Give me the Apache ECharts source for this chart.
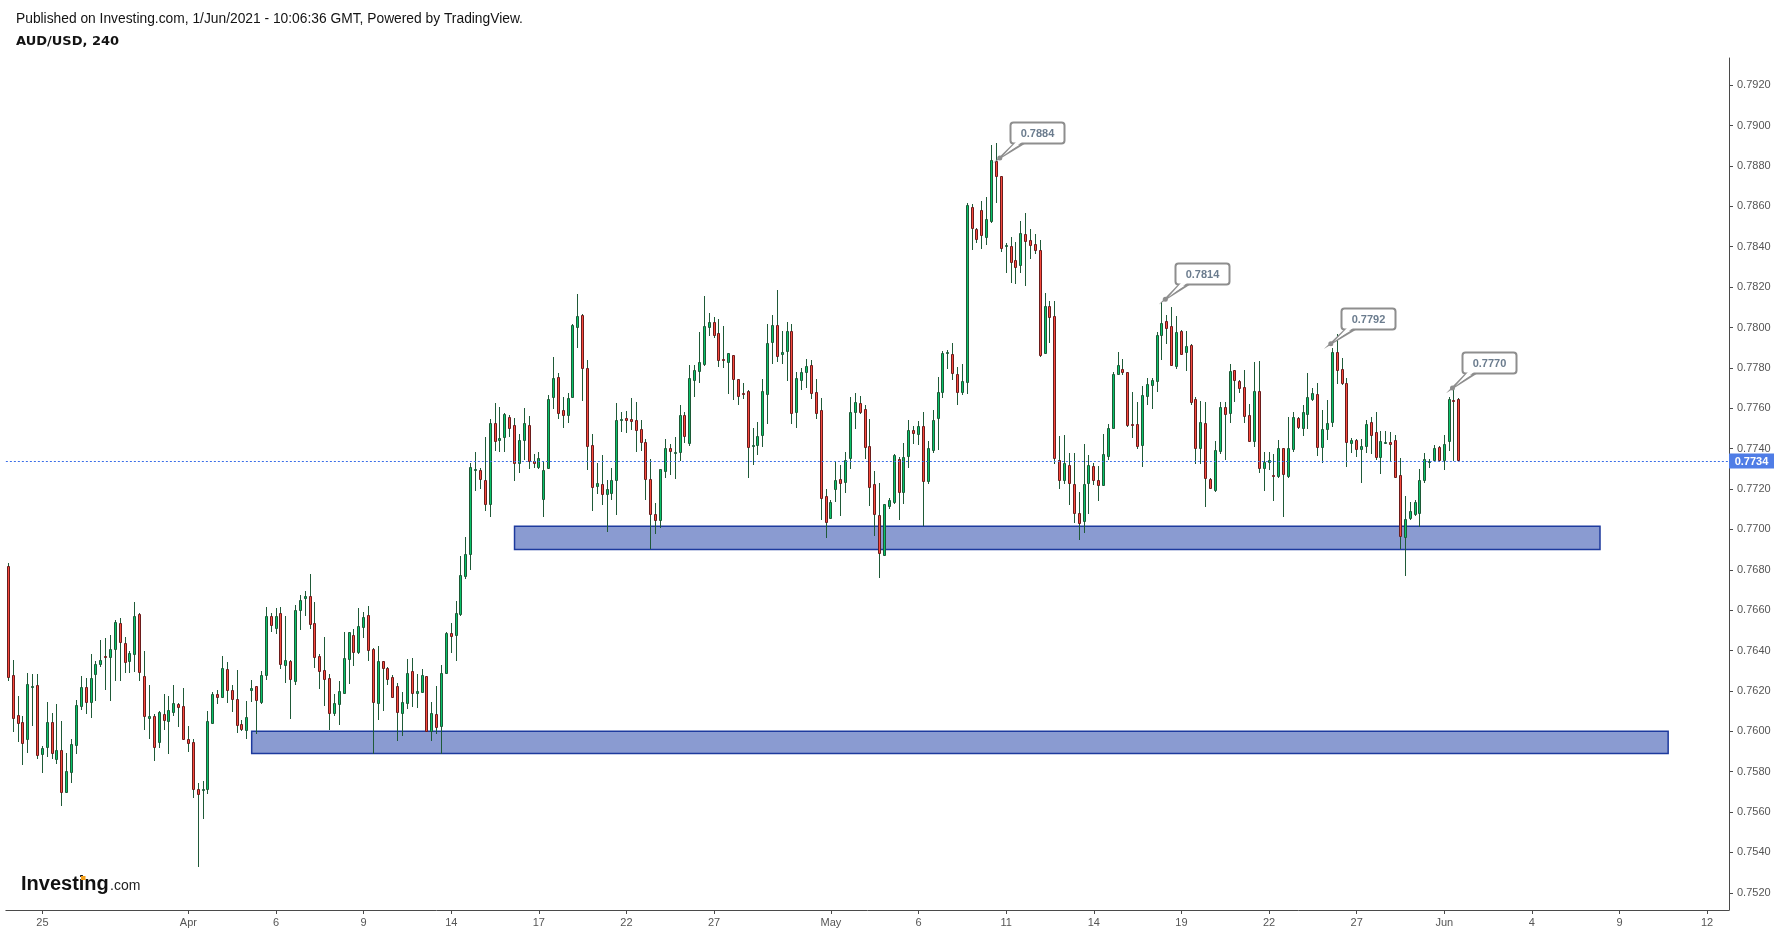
<!DOCTYPE html>
<html><head><meta charset="utf-8">
<script src="https://cdn.jsdelivr.net/npm/echarts@6/dist/echarts.min.js"></script>
<style>html,body{margin:0;padding:0;background:#fff}#chart{width:1781px;height:934px}</style>
</head><body><div id="chart"></div>
<script>
// AUD/USD 4h candles: [open, close, low, high]
const ohlc = [
[0.76819,0.76271,0.76254,0.76832],[0.76279,0.76064,0.76003,0.76353],[0.76081,0.76043,0.75954,0.76175],[0.76044,0.75940,0.75838,0.76076],
[0.75960,0.76234,0.75899,0.76287],[0.76221,0.76226,0.76031,0.76284],[0.76229,0.75884,0.75868,0.76284],[0.75886,0.75916,0.75800,0.75927],
[0.75921,0.76044,0.75878,0.76143],[0.76044,0.75891,0.75866,0.76089],[0.75864,0.75907,0.75841,0.76135],[0.75907,0.75698,0.75635,0.76051],
[0.75701,0.75803,0.75701,0.75891],[0.75800,0.75935,0.75750,0.75960],[0.75934,0.76130,0.75891,0.76155],[0.76127,0.76219,0.76110,0.76274],
[0.76219,0.76143,0.76089,0.76262],[0.76147,0.76264,0.76072,0.76383],[0.76285,0.76332,0.76155,0.76350],[0.76335,0.76351,0.76323,0.76452],
[0.76373,0.76366,0.76209,0.76464],[0.76366,0.76406,0.76155,0.76477],[0.76406,0.76541,0.76254,0.76550],[0.76535,0.76441,0.76254,0.76561],
[0.76436,0.76342,0.76295,0.76467],[0.76350,0.76386,0.76295,0.76396],[0.76381,0.76569,0.76300,0.76640],[0.76579,0.76292,0.76254,0.76586],
[0.76272,0.76074,0.76013,0.76396],[0.76064,0.76074,0.75968,0.76229],[0.76074,0.75921,0.75859,0.76084],[0.75945,0.76094,0.75924,0.76100],
[0.76084,0.76054,0.76013,0.76185],[0.76049,0.76104,0.75894,0.76176],[0.76094,0.76138,0.76081,0.76229],[0.76135,0.76122,0.76028,0.76138],
[0.76125,0.75960,0.75960,0.76214],[0.75960,0.75940,0.75904,0.76026],[0.75945,0.75716,0.75676,0.75960],[0.75712,0.75688,0.75334,0.75742],
[0.75708,0.75712,0.75572,0.75754],[0.75716,0.76049,0.75696,0.76100],[0.76043,0.76185,0.76043,0.76195],[0.76183,0.76168,0.76142,0.76204],
[0.76171,0.76312,0.76171,0.76373],[0.76307,0.76203,0.76147,0.76343],[0.76203,0.76158,0.76102,0.76229],[0.76158,0.76029,0.75995,0.76304],
[0.76034,0.76013,0.76008,0.76056],[0.76008,0.76069,0.75968,0.76150],[0.76203,0.76214,0.76152,0.76254],[0.76223,0.76153,0.75993,0.76224],
[0.76147,0.76277,0.76142,0.76299],[0.76280,0.76569,0.76261,0.76616],[0.76569,0.76525,0.76498,0.76584],[0.76513,0.76569,0.76488,0.76611],
[0.76584,0.76335,0.76315,0.76616],[0.76330,0.76351,0.76246,0.76571],[0.76346,0.76261,0.76067,0.76353],[0.76251,0.76599,0.76234,0.76624],
[0.76599,0.76649,0.76507,0.76675],[0.76658,0.76668,0.76576,0.76695],[0.76668,0.76533,0.76513,0.76779],[0.76536,0.76370,0.76317,0.76640],
[0.76371,0.76300,0.76214,0.76383],[0.76302,0.76261,0.76132,0.76467],[0.76264,0.76092,0.76011,0.76284],[0.76092,0.76138,0.76081,0.76185],
[0.76137,0.76198,0.76038,0.76249],[0.76191,0.76361,0.76191,0.76492],[0.76360,0.76490,0.76241,0.76492],[0.76475,0.76394,0.76330,0.76505],
[0.76393,0.76521,0.76388,0.76611],[0.76518,0.76566,0.76469,0.76591],[0.76574,0.76401,0.76353,0.76621],[0.76406,0.76147,0.75891,0.76410],
[0.76142,0.76347,0.76061,0.76422],[0.76347,0.76315,0.76105,0.76348],[0.76312,0.76261,0.76236,0.76317],[0.76267,0.76171,0.76171,0.76279],
[0.76224,0.76097,0.75957,0.76238],[0.76092,0.76143,0.75983,0.76195],[0.76142,0.76287,0.76117,0.76358],[0.76297,0.76191,0.76127,0.76363],
[0.76191,0.76198,0.76120,0.76284],[0.76196,0.76277,0.76196,0.76309],[0.76272,0.76000,0.76000,0.76274],[0.76003,0.76089,0.75957,0.76145],
[0.76084,0.76023,0.75993,0.76224],[0.76028,0.76287,0.75891,0.76328],[0.76290,0.76485,0.76290,0.76490],[0.76485,0.76474,0.76393,0.76536],
[0.76479,0.76584,0.76353,0.76645],[0.76581,0.76772,0.76576,0.76868],[0.76771,0.76878,0.76761,0.76962],[0.76880,0.77307,0.76804,0.77327],
[0.77296,0.77299,0.77195,0.77383],[0.77294,0.77251,0.77205,0.77306],[0.77243,0.77127,0.77096,0.77459],[0.77127,0.77525,0.77068,0.77545],
[0.77525,0.77439,0.77393,0.77626],[0.77444,0.77451,0.77388,0.77606],[0.77459,0.77570,0.77390,0.77574],[0.77557,0.77504,0.77464,0.77568],
[0.77515,0.77327,0.77245,0.77550],[0.77327,0.77441,0.77283,0.77472],[0.77441,0.77525,0.77350,0.77601],[0.77515,0.77337,0.77306,0.77562],
[0.77339,0.77327,0.77311,0.77372],[0.77311,0.77352,0.77304,0.77383],[0.77149,0.77294,0.77068,0.77340],[0.77302,0.77646,0.77302,0.77666],
[0.77657,0.77748,0.77600,0.77854],[0.77753,0.77578,0.77553,0.77775],[0.77591,0.77565,0.77509,0.77656],[0.77568,0.77651,0.77534,0.77676],
[0.77654,0.78012,0.77654,0.78015],[0.78001,0.78057,0.77905,0.78166],[0.78062,0.77798,0.77641,0.78067],[0.77798,0.77415,0.77299,0.77839],
[0.77418,0.77212,0.77096,0.77472],[0.77217,0.77230,0.77179,0.77329],[0.77225,0.77174,0.77126,0.77368],[0.77174,0.77198,0.76994,0.77245],
[0.77182,0.77245,0.77149,0.77304],[0.77245,0.77542,0.77076,0.77626],[0.77543,0.77547,0.77489,0.77580],[0.77552,0.77543,0.77481,0.77588],
[0.77547,0.77535,0.77497,0.77652],[0.77542,0.77494,0.77388,0.77631],[0.77496,0.77435,0.77393,0.77542],[0.77431,0.77251,0.77149,0.77448],
[0.77248,0.77078,0.76909,0.77349],[0.77076,0.77048,0.76984,0.77131],[0.77045,0.77297,0.77014,0.77300],[0.77291,0.77403,0.77260,0.77448],
[0.77403,0.77390,0.77276,0.77425],[0.77380,0.77383,0.77255,0.77458],[0.77385,0.77567,0.77342,0.77616],[0.77567,0.77464,0.77431,0.77581],
[0.77430,0.77750,0.77420,0.77814],[0.77740,0.77789,0.77662,0.77814],[0.77786,0.77829,0.77732,0.77978],[0.77819,0.78007,0.77814,0.78156],
[0.78004,0.78027,0.77964,0.78072],[0.78027,0.77963,0.77951,0.78052],[0.77973,0.77841,0.77811,0.78042],[0.77844,0.77841,0.77803,0.78007],
[0.77831,0.77872,0.77674,0.77875],[0.77862,0.77747,0.77647,0.77866],[0.77745,0.77662,0.77623,0.77747],[0.77674,0.77669,0.77649,0.77725],
[0.77684,0.77410,0.77261,0.77688],[0.77415,0.77418,0.77326,0.77502],[0.77420,0.77463,0.77375,0.77532],[0.77469,0.77684,0.77415,0.77745],
[0.77669,0.77922,0.77529,0.78017],[0.77930,0.78011,0.77824,0.78062],[0.78011,0.77857,0.77836,0.78186],[0.77867,0.77879,0.77826,0.77983],
[0.77882,0.77983,0.77738,0.78027],[0.77983,0.77575,0.77529,0.78017],[0.77580,0.77748,0.77509,0.77778],[0.77742,0.77778,0.77694,0.77799],
[0.77781,0.77809,0.77707,0.77844],[0.77813,0.77674,0.77652,0.77837],[0.77679,0.77575,0.77553,0.77745],[0.77590,0.77154,0.77053,0.77649],
[0.77164,0.77038,0.76964,0.77198],[0.77055,0.77134,0.77055,0.77147],[0.77202,0.77243,0.77142,0.77339],[0.77248,0.77231,0.77073,0.77319],
[0.77233,0.77342,0.77187,0.77383],[0.77352,0.77580,0.77306,0.77656],[0.77580,0.77629,0.77504,0.77676],[0.77624,0.77580,0.77578,0.77661],
[0.77595,0.77410,0.77355,0.77614],[0.77411,0.77212,0.77121,0.77547],[0.77223,0.77075,0.76972,0.77289],[0.77070,0.76885,0.76766,0.77230],
[0.76872,0.77124,0.76872,0.77126],[0.77118,0.77146,0.77108,0.77155],[0.77134,0.77368,0.77132,0.77372],[0.77347,0.77184,0.77053,0.77359],
[0.77184,0.77357,0.77132,0.77430],[0.77361,0.77491,0.77310,0.77542],[0.77491,0.77476,0.77430,0.77512],[0.77471,0.77512,0.77421,0.77537],
[0.77512,0.77241,0.77022,0.77583],[0.77241,0.77401,0.77231,0.77438],[0.77393,0.77540,0.77385,0.77591],[0.77550,0.77679,0.77396,0.77756],
[0.77679,0.77874,0.77657,0.77882],[0.77872,0.77879,0.77798,0.77888],[0.77867,0.77773,0.77743,0.77925],[0.77768,0.77682,0.77619,0.77803],
[0.77682,0.77735,0.77671,0.77821],[0.77732,0.78605,0.77674,0.78617],[0.78595,0.78494,0.78390,0.78612],[0.78486,0.78440,0.78425,0.78491],
[0.78580,0.78456,0.78392,0.78626],[0.78450,0.78536,0.78412,0.78645],[0.78529,0.78828,0.78521,0.78904],[0.78825,0.78752,0.78623,0.78912],
[0.78749,0.78392,0.78380,0.78750],[0.78402,0.78407,0.78276,0.78417],[0.78402,0.78326,0.78227,0.78450],[0.78334,0.78301,0.78220,0.78422],
[0.78311,0.78466,0.78276,0.78529],[0.78461,0.78428,0.78212,0.78565],[0.78433,0.78410,0.78346,0.78486],[0.78414,0.78382,0.78371,0.78465],
[0.78384,0.77862,0.77859,0.78435],[0.77874,0.78106,0.77874,0.78169],[0.78106,0.78054,0.77928,0.78130],[0.78057,0.77355,0.77330,0.78133],
[0.77344,0.77245,0.77207,0.77463],[0.77245,0.77327,0.77228,0.77467],[0.77319,0.77231,0.77124,0.77380],[0.77225,0.77079,0.77035,0.77380],
[0.77079,0.77030,0.76951,0.77184],[0.77043,0.77223,0.76989,0.77423],[0.77231,0.77319,0.77083,0.77368],[0.77314,0.77243,0.77223,0.77329],
[0.77243,0.77218,0.77147,0.77312],[0.77218,0.77372,0.77218,0.77472],[0.77362,0.77501,0.77347,0.77522],[0.77504,0.77770,0.77501,0.77781],
[0.77771,0.77814,0.77771,0.77877],[0.77794,0.77778,0.77771,0.77842],[0.77778,0.77517,0.77514,0.77778],[0.77524,0.77520,0.77459,0.77682],
[0.77520,0.77415,0.77405,0.77631],[0.77420,0.77666,0.77316,0.77709],[0.77659,0.77718,0.77623,0.77750],[0.77714,0.77740,0.77600,0.77751],
[0.77737,0.77963,0.77685,0.77979],[0.77964,0.78021,0.77844,0.78128],[0.78032,0.77999,0.77925,0.78062],[0.78006,0.77813,0.77813,0.78103],
[0.77809,0.77978,0.77798,0.78057],[0.77983,0.77870,0.77867,0.77988],[0.77880,0.77910,0.77789,0.77983],[0.77913,0.77633,0.77619,0.77916],
[0.77646,0.77405,0.77330,0.77657],[0.77405,0.77530,0.77327,0.77638],[0.77525,0.77256,0.77117,0.77629],[0.77250,0.77207,0.77203,0.77253],
[0.77197,0.77393,0.77190,0.77439],[0.77390,0.77606,0.77380,0.77631],[0.77605,0.77573,0.77350,0.77633],[0.77578,0.77783,0.77534,0.77819],
[0.77788,0.77738,0.77638,0.77791],[0.77735,0.77699,0.77682,0.77738],[0.77705,0.77563,0.77534,0.77789],[0.77567,0.77439,0.77439,0.77623],
[0.77439,0.77685,0.77415,0.77827],[0.77685,0.77306,0.77284,0.77834],[0.77302,0.77332,0.77197,0.77382],[0.77332,0.77342,0.77300,0.77383],
[0.77268,0.77263,0.77146,0.77373],[0.77266,0.77401,0.77261,0.77441],[0.77401,0.77273,0.77066,0.77404],[0.77266,0.77401,0.77258,0.77555],
[0.77400,0.77555,0.77390,0.77581],[0.77552,0.77505,0.77502,0.77555],[0.77501,0.77580,0.77467,0.77614],[0.77573,0.77657,0.77501,0.77775],
[0.77647,0.77674,0.77641,0.77699],[0.77669,0.77406,0.77368,0.77727],[0.77410,0.77496,0.77335,0.77591],[0.77497,0.77527,0.77446,0.77641],
[0.77534,0.77877,0.77512,0.77900],[0.77877,0.77791,0.77723,0.77968],[0.77793,0.77723,0.77720,0.77847],[0.77723,0.77434,0.77316,0.77750],
[0.77430,0.77443,0.77383,0.77451],[0.77441,0.77400,0.77363,0.77446],[0.77397,0.77413,0.77236,0.77449],[0.77415,0.77520,0.77383,0.77542],
[0.77530,0.77467,0.77377,0.77555],[0.77481,0.77360,0.77347,0.77580],[0.77360,0.77436,0.77281,0.77489],[0.77430,0.77433,0.77426,0.77489],
[0.77431,0.77425,0.77344,0.77482],[0.77441,0.77261,0.77261,0.77469],[0.77268,0.76969,0.76909,0.77352],[0.76964,0.77050,0.76774,0.77165],
[0.77058,0.77091,0.77051,0.77137],[0.77078,0.77134,0.77073,0.77146],[0.77083,0.77243,0.77017,0.77301],[0.77243,0.77349,0.77236,0.77378],
[0.77334,0.77340,0.77311,0.77350],[0.77344,0.77401,0.77339,0.77416],[0.77408,0.77344,0.77339,0.77415],[0.77344,0.77423,0.77297,0.77466],
[0.77439,0.77646,0.77393,0.77657],[0.77641,0.77634,0.77344,0.77707],[0.77646,0.77344,0.77340,0.77650]
];
const slotCount = 354; // candle slots incl. empty future space
const xTickIndex = [7,37,55,73,91,109,127,145,169,187,205,223,241,259,277,295,313,331,349];
const xTickLabels = ['25','Apr','6','9','14','17','22','27','May','6','11','14','19','22','27','Jun','4','9','12'];
const yTickValues = [0.752,0.754,0.756,0.758,0.760,0.762,0.764,0.766,0.768,0.770,0.772,0.774,0.776,0.778,0.780,0.782,0.784,0.786,0.788,0.790,0.792];
const yMin = 0.751148, yMax = 0.793347;
const lastPrice = 0.7734;
const calloutIndex = [204, 238, 272, 297];
const calloutPrice = [0.7884, 0.7814, 0.7792, 0.7770];
const zoneStart = [104, 50];
const zoneEnd = [327, 341];
const zoneTop = [0.77015, 0.7600];
const zoneBottom = [0.7690, 0.7589];

const categories = [];
for (let i = 0; i < slotCount; i++) categories.push(String(i));
const tickMap = {};
xTickIndex.forEach((k, j) => { tickMap[k] = xTickLabels[j]; });
const candleData = ohlc.map((d, i) => [i, d[0], d[1], d[2], d[3]]);
const calloutData = calloutIndex.map((k, j) => [k, calloutPrice[j]]);
const zones = zoneStart.map((s, j) => [{xAxis: s, yAxis: zoneTop[j]}, {xAxis: zoneEnd[j], yAxis: zoneBottom[j]}]);

const UP_FILL = '#08c26a', DOWN_FILL = '#f8493c', UP_BORDER = '#1c5a36', DOWN_BORDER = '#6a1c1c', WICK = '#1f5a38';
const AXIS = '#4a4a4a', LABEL = '#555555';
const FONT = '"Liberation Sans", Arial, sans-serif';

const chart = echarts.init(document.getElementById('chart'), null, {renderer: 'canvas'});
chart.setOption({
  animation: false,
  backgroundColor: '#ffffff',
  grid: {left: 5.87, right: 52, top: 58, bottom: 24, containLabel: false},
  xAxis: {
    type: 'category', data: categories, boundaryGap: true,
    axisLine: {lineStyle: {color: AXIS, width: 1}},
    axisTick: {show: true, alignWithLabel: true, length: 4, interval: (i) => tickMap[i] !== undefined, lineStyle: {color: AXIS}},
    axisLabel: {interval: (i) => tickMap[i] !== undefined, formatter: (v, i) => tickMap[Number(v)] || '', color: LABEL, fontSize: 11, fontFamily: FONT, margin: 7},
    splitLine: {show: false}
  },
  yAxis: {
    type: 'value', position: 'right', min: yMin, max: yMax, scale: true,
    axisLine: {show: true, lineStyle: {color: AXIS, width: 1}},
    axisTick: {show: true, length: 4, customValues: yTickValues, lineStyle: {color: AXIS}},
    axisLabel: {customValues: yTickValues, formatter: (v) => v.toFixed(4), color: LABEL, fontSize: 11, fontFamily: FONT, margin: 8},
    splitLine: {show: false}
  },
  graphic: [
    {type: 'text', left: 16, top: 12, style: {text: 'Published on Investing.com, 1/Jun/2021 - 10:06:36 GMT, Powered by TradingView.', font: '13.8px ' + FONT, fill: '#131313'}},
    {type: 'text', left: 16, top: 35, style: {text: 'AUD/USD, 240', font: 'bold 13px "DejaVu Sans", sans-serif', fill: '#131313'}},
    {type: 'text', x: 21, y: 894, style: {text: 'Investing', font: 'bold 20px ' + FONT, fill: '#111', verticalAlign: 'bottom'}, z: 50},
    {type: 'rect', shape: {x: 81, y: 876, width: 4.5, height: 4}, style: {fill: '#f5a01a'}, z: 60},
    {type: 'text', x: 110, y: 893, style: {text: '.com', font: '14px ' + FONT, fill: '#222', verticalAlign: 'bottom'}, z: 50}
  ],
  series: [
    {
      name: 'zones', type: 'line', data: [], z: 1, clip: false, silent: true,
      markArea: {silent: true, itemStyle: {color: '#8a9bd1', borderColor: '#1d3a9e', borderWidth: 1.5}, data: zones}
    },
    {
      name: 'AUD/USD', type: 'custom', z: 5, clip: false,
      dimensions: ['i', 'open', 'close', 'low', 'high'],
      encode: {x: 0, y: [1, 2, 3, 4]},
      data: candleData,
      renderItem: function (params, api) {
        const idx = api.value(0);
        const o = api.value(1), c = api.value(2), l = api.value(3), h = api.value(4);
        const pO = api.coord([idx, o]), pC = api.coord([idx, c]);
        const yL = api.coord([idx, l])[1], yH = api.coord([idx, h])[1];
        const cx = Math.floor(pO[0]);
        const up = c >= o;
        const yTop = Math.round(Math.min(pO[1], pC[1])) + 0.5;
        let yBot = Math.round(Math.max(pO[1], pC[1])) + 0.5;
        if (yBot - yTop < 1) yBot = yTop + 1;
        return {type: 'group', children: [
          {type: 'line', shape: {x1: cx + 0.5, y1: Math.round(yH), x2: cx + 0.5, y2: Math.round(yL) + 1}, style: {stroke: WICK, lineWidth: 1}},
          {type: 'rect', shape: {x: cx - 0.5, y: yTop, width: 2, height: yBot - yTop}, style: {fill: up ? UP_FILL : DOWN_FILL, stroke: up ? UP_BORDER : DOWN_BORDER, lineWidth: 1}}
        ]};
      }
    },
    {
      name: 'last', type: 'custom', z: 8, clip: false, silent: true,
      dimensions: ['i', 'price'],
      encode: {x: 0, y: 1},
      data: [[ohlc.length - 1, lastPrice]],
      renderItem: function (params, api) {
        const cs = params.coordSys;
        const y = Math.round(api.coord([api.value(0), api.value(1)])[1]) + 0.5;
        const xr = cs.x + cs.width;
        return {type: 'group', children: [
          {type: 'line', shape: {x1: cs.x, y1: y, x2: xr, y2: y}, style: {stroke: '#3a6ee8', lineWidth: 1, lineDash: [2, 2]}},
          {type: 'rect', shape: {x: xr, y: y - 8, width: 45, height: 15}, style: {fill: '#4f7de6'}},
          {type: 'text', style: {text: api.value(1).toFixed(4), x: xr + 22.5, y: y, align: 'center', verticalAlign: 'middle', font: 'bold 11px ' + FONT, fill: '#ffffff'}}
        ]};
      }
    },
    {
      name: 'callouts', type: 'custom', z: 10, clip: false,
      dimensions: ['i', 'price'],
      encode: {x: 0, y: 1},
      data: calloutData,
      renderItem: function (params, api) {
        const p = api.coord([api.value(0), api.value(1)]);
        const tx = p[0] - 1.5, ty = p[1];
        const bx = Math.round(tx + 10) + 0.5, by = Math.round(ty - 36) + 0.5, bw = 54, bh = 21;
        return {type: 'group', children: [
          {type: 'polygon', shape: {points: [[tx, ty], [bx + 4, by + bh], [bx + 13, by + bh]]}, style: {fill: '#ffffff', stroke: '#8e8e8e', lineWidth: 2}},
          {type: 'rect', shape: {x: bx, y: by, width: bw, height: bh, r: 3}, style: {fill: '#ffffff', stroke: '#8e8e8e', lineWidth: 2}},
          {type: 'polygon', shape: {points: [[tx + 3, ty - 2], [bx + 5.5, by + bh - 1.5], [bx + 11.5, by + bh - 1.5]]}, style: {fill: '#ffffff'}},
          {type: 'circle', shape: {cx: tx, cy: ty, r: 2.5}, style: {fill: '#8e8e8e'}},
          {type: 'text', style: {text: api.value(1).toFixed(4), x: bx + bw / 2, y: by + bh / 2 + 0.5, align: 'center', verticalAlign: 'middle', font: 'bold 11px ' + FONT, fill: '#6b7c8e'}}
        ]};
      }
    }
  ]
});
</script>
</body></html>
